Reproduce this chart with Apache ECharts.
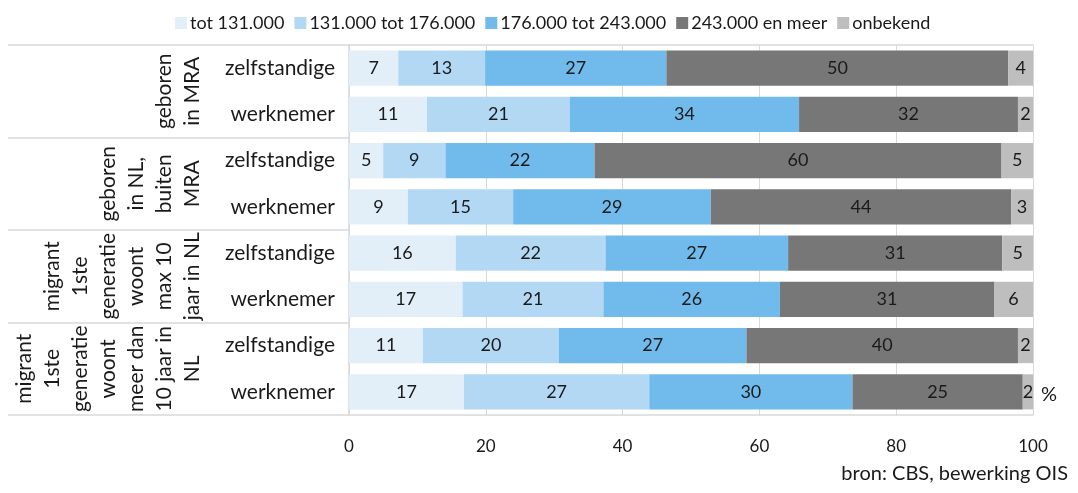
<!DOCTYPE html>
<html>
<head>
<meta charset="utf-8">
<script src="https://cdn.jsdelivr.net/npm/echarts@6/dist/echarts.min.js"></script>
<style>
  html, body { margin: 0; padding: 0; background: #fff; }
  #chart { width: 1078px; height: 493px; }
</style>
</head>
<body>
<div id="chart"></div>
<script>
// categorieen (van boven naar beneden)
const rowLabels = ['zelfstandige', 'werknemer', 'zelfstandige', 'werknemer',
  'zelfstandige', 'werknemer', 'zelfstandige', 'werknemer'];
const groupLabels = [
  'geboren\nin MRA',
  'geboren\nin NL,\nbuiten\nMRA',
  'migrant\n1ste\ngeneratie\nwoont\nmax 10\njaar in NL',
  'migrant\n1ste\ngeneratie\nwoont\nmeer dan\n10 jaar in\nNL'
];
const seriesNames = ['tot 131.000', '131.000 tot 176.000', '176.000 tot 243.000', '243.000 en meer', 'onbekend'];

const tot131 = [7.2, 11.4, 5.0, 8.6, 15.6, 16.6, 10.8, 16.8];
const van131tot176 = [12.7, 20.9, 9.1, 15.4, 21.9, 20.6, 19.9, 27.1];
const van176tot243 = [26.5, 33.5, 21.8, 28.9, 26.7, 25.8, 27.4, 29.7];
const vanaf243 = [50.0, 32.0, 59.5, 43.9, 31.3, 31.3, 39.7, 24.9];
const onbekend = [3.6, 2.2, 4.6, 3.2, 4.5, 5.7, 2.2, 1.5];
const xTicks = [0, 20, 40, 60, 80, 100];

const colors = ['#e2eff9', '#b3d8f3', '#70bbec', '#777777', '#bebebe'];
const font = 'Lato, "Open Sans", sans-serif';
const lineColor = '#d9d9d9';

const chart = echarts.init(document.getElementById('chart'));

const makeSeries = (name, data, i) => ({
  name: name,
  type: 'bar',
  stack: 'totaal',
  yAxisIndex: 0,
  barCategoryGap: '24%',
  data: data,
  itemStyle: { color: colors[i] },
  label: {
    show: true,
    position: 'inside',
    color: '#1a1a1a',
    fontFamily: font,
    fontSize: 18,
    formatter: p => Math.round(p.value)
  },
  emphasis: { disabled: true }
});

const option = {
  animation: false,
  textStyle: { fontFamily: font },
  legend: {
    top: 9,
    left: 170,
    itemWidth: 12,
    itemHeight: 12,
    itemGap: 10,
    icon: 'rect',
    textStyle: { fontSize: 18, color: '#1a1a1a', fontFamily: font, padding: [0, 0, 0, -2] },
    data: seriesNames
  },
  grid: {
    left: 349,
    right: 45,
    top: 45,
    height: 370
  },
  xAxis: [
    {
      type: 'value',
      min: 0,
      max: 100,
      interval: 20,
      axisLine: { show: true, lineStyle: { color: lineColor, width: 1.5 } },
      axisTick: { show: false },
      splitLine: { show: true, lineStyle: { color: lineColor, width: 1 } },
      axisLabel: {
        margin: 23,
        color: '#1a1a1a',
        fontSize: 17,
        fontFamily: font,
        formatter: v => xTicks.includes(v) ? String(v) : ''
      }
    },
    {
      type: 'value',
      position: 'top',
      min: 0,
      max: 100,
      axisLine: { show: true, lineStyle: { color: lineColor, width: 1.5 } },
      axisTick: { show: false },
      axisLabel: { show: false },
      splitLine: { show: false }
    }
  ],
  yAxis: [
    {
      type: 'category',
      inverse: true,
      data: rowLabels,
      axisLine: { show: true, lineStyle: { color: lineColor, width: 1.5 } },
      axisTick: { show: false },
      axisLabel: {
        margin: 14,
        color: '#1a1a1a',
        fontSize: 21,
        fontFamily: font
      }
    },
    {
      type: 'category',
      position: 'left',
      inverse: true,
      data: groupLabels,
      axisLine: { show: false },
      axisTick: {
        show: true,
        interval: 0,
        length: 341,
        lineStyle: { color: lineColor, width: 1.5 }
      },
      axisLabel: {
        interval: 0,
        rotate: 90,
        margin: 143,
        color: '#1a1a1a',
        fontSize: 21,
        lineHeight: 28,
        fontFamily: font
      }
    }
  ],
  graphic: [
    {
      type: 'text',
      left: 1041,
      top: 385,
      style: { text: '%', fontSize: 20, fontFamily: font, fill: '#1a1a1a' }
    },
    {
      type: 'text',
      right: 10,
      top: 464,
      style: { text: 'bron: CBS, bewerking OIS', fontSize: 20, fontFamily: font, fill: '#1a1a1a' }
    }
  ],
  series: [
    makeSeries(seriesNames[0], tot131, 0),
    makeSeries(seriesNames[1], van131tot176, 1),
    makeSeries(seriesNames[2], van176tot243, 2),
    makeSeries(seriesNames[3], vanaf243, 3),
    makeSeries(seriesNames[4], onbekend, 4)
  ]
};

chart.setOption(option);
window.addEventListener('resize', () => chart.resize());
</script>
</body>
</html>
